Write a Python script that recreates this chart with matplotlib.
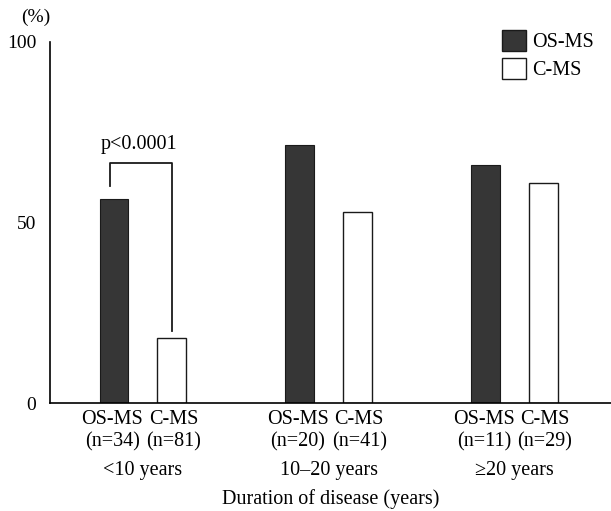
import numpy as np
import matplotlib
matplotlib.use('Agg')
import matplotlib.pyplot as plt
from matplotlib.patches import Patch

plt.rcParams['font.family'] = ['Liberation Serif', 'DejaVu Serif']

groups = ['<10 years', '10\u201320 years', '\u226520 years']
os_ms = [56.5, 71.5, 66.0]
c_ms = [18.0, 53.0, 61.0]
os_n = ['(n=34)', '(n=20)', '(n=11)']
c_n = ['(n=81)', '(n=41)', '(n=29)']

x = np.arange(len(groups))
off = 0.155
w = 0.155

fig = plt.figure(figsize=(6.11, 5.11), dpi=100)
ax = fig.add_axes([50 / 611, 1 - 403 / 511, 1 - 50 / 611, (403 - 42) / 511])

ax.bar(x - off, os_ms, w, color='#363636', edgecolor='#1a1a1a', linewidth=0.8)
ax.bar(x + off, c_ms, w, color='white', edgecolor='#1a1a1a', linewidth=1.0)

ax.set_xlim(-0.5, 2.52)
ax.set_ylim(0, 100)
ax.set_yticks([0, 50, 100])
ax.set_yticklabels(['0', '50', '100'], fontsize=14)
ax.tick_params(axis='y', length=0, pad=10)
ax.set_xticks([])
for s in ['top', 'right']:
    ax.spines[s].set_visible(False)
for s in ['left', 'bottom']:
    ax.spines[s].set_linewidth(1.2)

ax.text(-0.5, 104.5, '(%)', fontsize=14, ha='right', va='bottom')

# category labels under bars
for i in range(len(groups)):
    ax.text(x[i] - off - 0.01, -4.6, 'OS-MS', fontsize=14.5, ha='center', va='center')
    ax.text(x[i] + off + 0.01, -4.6, 'C-MS', fontsize=14.5, ha='center', va='center')
    ax.text(x[i] - off - 0.01, -10.9, os_n[i], fontsize=14.5, ha='center', va='center')
    ax.text(x[i] + off + 0.01, -10.9, c_n[i], fontsize=14.5, ha='center', va='center')
    ax.text(x[i], -18.6, groups[i], fontsize=14.5, ha='center', va='center')

ax.text(1.01, -26.6, 'Duration of disease (years)', fontsize=14.5,
        ha='center', va='center')

# significance bracket
ax.plot([x[0] - off - 0.02, x[0] - off - 0.02, x[0] + off, x[0] + off],
        [60, 66.5, 66.5, 20], color='#1a1a1a', linewidth=1.3)
ax.text(x[0] - 0.02, 69, 'p<0.0001', fontsize=14.5, ha='center', va='bottom')

handles = [Patch(facecolor='#363636', edgecolor='#1a1a1a'),
           Patch(facecolor='white', edgecolor='#1a1a1a')]
ax.legend(handles, ['OS-MS', 'C-MS'], loc='upper right',
          bbox_to_anchor=(594 / 611, 1 - 30 / 511), bbox_transform=fig.transFigure,
          frameon=False, fontsize=14.5, handlelength=1.2, handleheight=1.2,
          handletextpad=0.3, labelspacing=0.3, borderaxespad=0.0, borderpad=0.0)

fig.savefig('out.png', dpi=100)
